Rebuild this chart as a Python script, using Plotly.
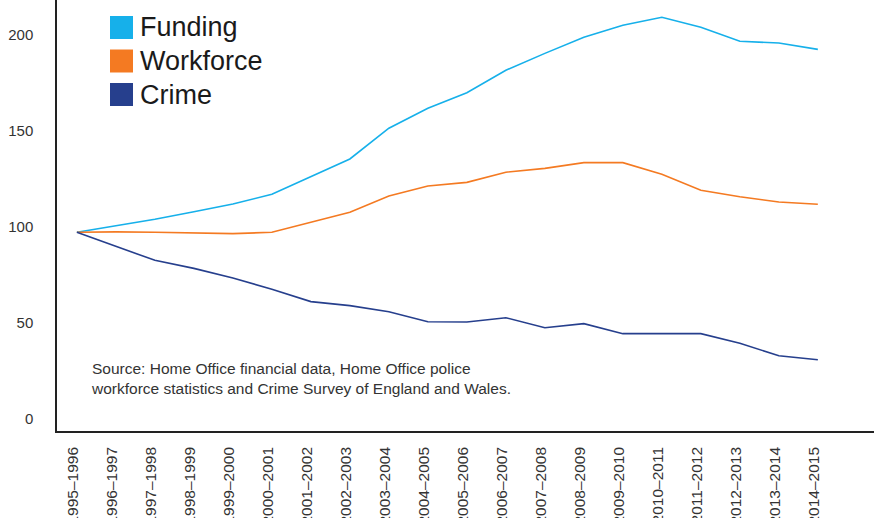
import plotly.graph_objects as go

# Financial years on the x axis
years = [
    "1995–1996", "1996–1997", "1997–1998", "1998–1999", "1999–2000",
    "2000–2001", "2001–2002", "2002–2003", "2003–2004", "2004–2005",
    "2005–2006", "2006–2007", "2007–2008", "2008–2009", "2009–2010",
    "2010–2011", "2011–2012", "2012–2013", "2013–2014", "2014–2015",
]

# Index values (1995–1996 = 100)
funding = [100, 103.3, 106.8, 110.7, 114.7, 119.8, 129.0, 138.2, 154.2, 164.6,
           172.7, 184.4, 193.2, 201.6, 207.8, 212.0, 206.8, 199.5, 198.6, 195.3]
workforce = [100, 100.2, 100.0, 99.5, 99.3, 100.0, 105.0, 110.4, 118.9, 124.1,
             126.0, 131.3, 133.3, 136.3, 136.3, 130.2, 121.9, 118.5, 115.8, 114.6]
crime = [100, 92.9, 85.4, 81.2, 76.2, 70.3, 63.9, 61.8, 58.6, 53.4,
         53.3, 55.5, 50.3, 52.4, 47.2, 47.2, 47.2, 42.2, 35.7, 33.6]

series_names = ["Funding", "Workforce", "Crime"]
series_colors = ["#16b0ea", "#f47a22", "#263f8d"]
series_values = [funding, workforce, crime]

y_ticks = [0, 50, 100, 150, 200]

source_text = ("Source: Home Office financial data, Home Office police<br>"
               "workforce statistics and Crime Survey of England and Wales.")

FONT = "Liberation Sans"
W, H = 874, 518
ML, MB = 57, 87
PW, PH = W - ML, H - MB


def px_x(px):
    return (px - ML) / PW


def px_y(py):
    return (PH - py) / PH


fig = go.Figure()
for name, color, vals in zip(series_names, series_colors, series_values):
    fig.add_trace(go.Scatter(
        x=years, y=vals, mode="lines", name=name,
        line=dict(color=color, width=1.6), showlegend=False,
    ))

# Hand-built legend: coloured squares with large labels
shapes = []
annotations = []
for k, (name, color) in enumerate(zip(series_names, series_colors)):
    top = 16 + k * 33.5
    shapes.append(dict(
        type="rect", xref="paper", yref="paper",
        x0=px_x(110), x1=px_x(133), y0=px_y(top + 23), y1=px_y(top),
        fillcolor=color, line=dict(width=0),
    ))
    annotations.append(dict(
        text=name, xref="paper", yref="paper",
        x=px_x(138), y=px_y(top + 11.5), xanchor="left", yanchor="middle",
        showarrow=False, font=dict(family=FONT, size=27, color="#1a1a1a"),
    ))

annotations.append(dict(
    text=source_text, xref="paper", yref="paper",
    x=px_x(89), y=px_y(358), xanchor="left", yanchor="top", align="left",
    showarrow=False, font=dict(family=FONT, size=15.5, color="#333333"),
))

fig.update_layout(
    width=W, height=H,
    margin=dict(l=ML, r=0, t=0, b=MB, pad=0),
    paper_bgcolor="white", plot_bgcolor="white",
    font=dict(family=FONT, color="#333333"),
    shapes=shapes, annotations=annotations,
    showlegend=False,
)

fig.update_xaxes(
    type="category", range=[-0.51, 20.44],
    showgrid=False, zeroline=False,
    showline=True, linecolor="#222222", linewidth=1.5,
    ticks="", tickangle=-90, tickfont=dict(family=FONT, size=15.5, color="#333333"),
    ticklabelstandoff=8, ticklabelshift=-4, automargin=False,
)
fig.update_yaxes(
    range=[-3.5, 221], tickvals=y_ticks,
    showgrid=False, zeroline=False,
    showline=True, linecolor="#222222", linewidth=1.5,
    ticks="", tickfont=dict(family=FONT, size=15, color="#333333"),
    ticklabelstandoff=19, ticklabelshift=-6, automargin=False,
)

fig.write_html("out.html")
